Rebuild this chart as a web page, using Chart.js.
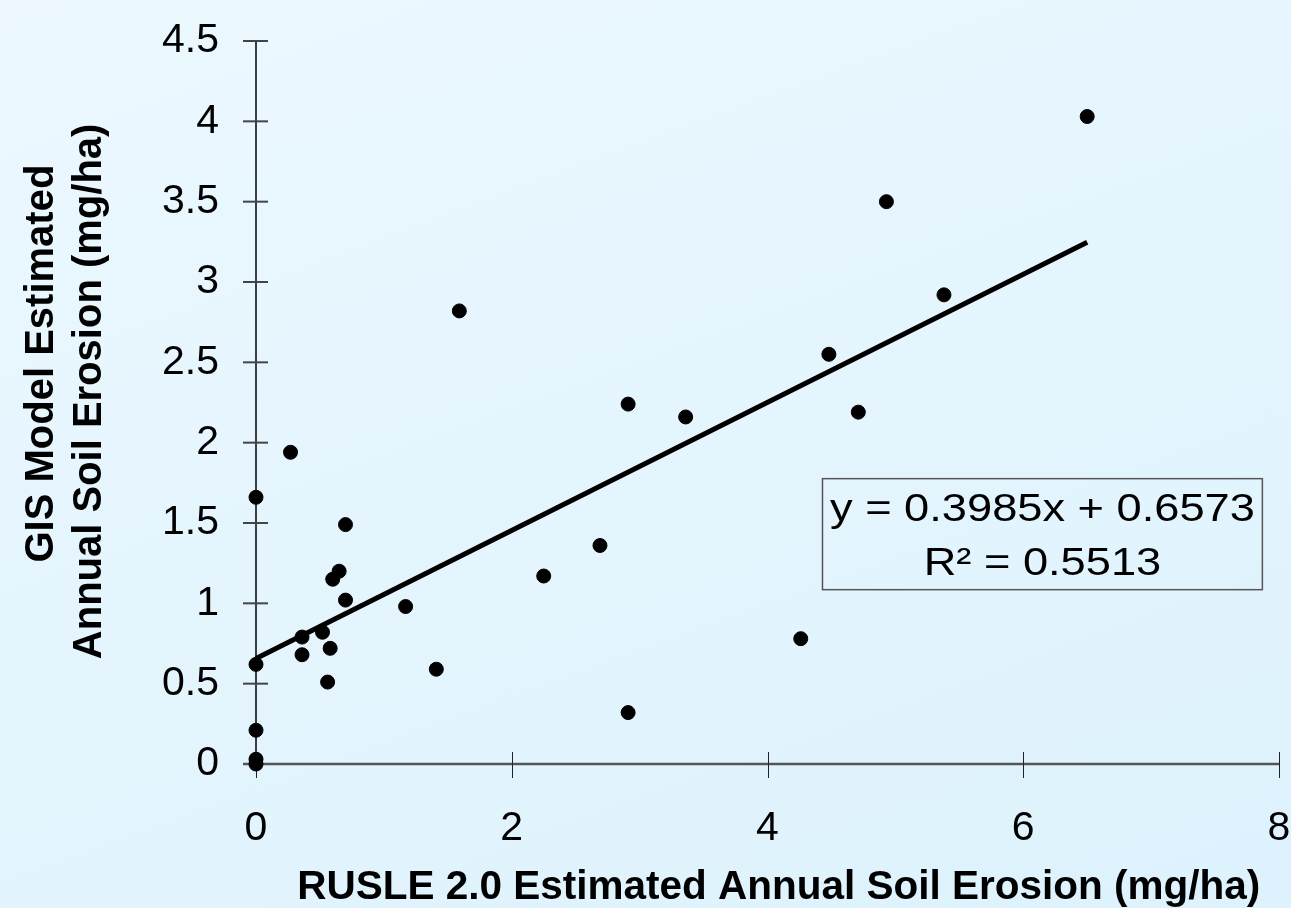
<!DOCTYPE html>
<html>
<head>
<meta charset="utf-8">
<script src="https://cdn.jsdelivr.net/npm/chart.js@4"></script>
<style>
  html, body { margin: 0; padding: 0; }
  body {
    width: 1291px; height: 908px; overflow: hidden;
    background: linear-gradient(160deg, #ecf8fe 0%, #ddf2fd 100%);
  }
  #wrap { width: 1291px; height: 908px; }
</style>
</head>
<body>
<div id="wrap"><canvas id="chart"></canvas></div>
<script>
// values
const rusleX = [0, 0, 0, 0, 0, 0.27, 0.36, 0.36, 0.52, 0.56, 0.58, 0.60, 0.65, 0.70, 0.70,
  1.17, 1.41, 1.59, 2.25, 2.69, 2.91, 2.91, 3.36, 4.26, 4.48, 4.71, 4.93, 5.38, 6.50];
const gisY = [0.00, 0.03, 0.21, 0.62, 1.66, 1.94, 0.79, 0.68, 0.82, 0.51, 0.72, 1.15, 1.20, 1.49, 1.02,
  0.98, 0.59, 2.82, 1.17, 1.36, 2.24, 0.32, 2.16, 0.78, 2.55, 2.19, 3.50, 2.92, 4.03];
const trendX = [0, 6.5];
const trendY = [0.657, 3.248];

const xTicks = ['0', '2', '4', '6', '8'];
const yTicks = ['0', '0.5', '1', '1.5', '2', '2.5', '3', '3.5', '4', '4.5'];
// leading spaces nudge the titles to where they sit in the original
const xTitle = '  RUSLE 2.0 Estimated Annual Soil Erosion (mg/ha)';
const yTitle = ['       GIS Model Estimated', '  Annual Soil Erosion (mg/ha)'];
const equation = ['y = 0.3985x + 0.6573', 'R\u00b2 = 0.5513'];

// where the equation box sits, in data units
const boxX = [4.43, 7.87];
const boxY = [1.085, 1.776];

const FONT = 'Arial, "Liberation Sans", sans-serif';
Chart.defaults.font.family = FONT;
Chart.defaults.color = '#000';

const points = rusleX.map((x, i) => ({ x: x, y: gisY[i] }));
const trend = trendX.map((x, i) => ({ x: x, y: trendY[i] }));

// axes with ticks that cross the axis line, plus the equation box
const excelAxes = {
  id: 'excelAxes',
  beforeDatasetsDraw(chart) {
    const { ctx, chartArea: a, scales: { x, y } } = chart;
    ctx.save();
    ctx.lineCap = 'butt';

    ctx.strokeStyle = '#000';
    ctx.lineWidth = 1.5;
    ctx.beginPath();
    ctx.moveTo(a.left, a.top);
    ctx.lineTo(a.left, a.bottom);
    ctx.stroke();

    ctx.strokeStyle = '#444';
    ctx.lineWidth = 2;
    y.ticks.forEach(t => {
      const py = y.getPixelForValue(t.value);
      ctx.beginPath();
      ctx.moveTo(a.left - 13, py);
      ctx.lineTo(a.left + 12, py);
      ctx.stroke();
    });

    ctx.strokeStyle = '#555';
    ctx.lineWidth = 2.5;
    ctx.beginPath();
    ctx.moveTo(a.left - 13, a.bottom);
    ctx.lineTo(a.right, a.bottom);
    ctx.stroke();

    ctx.strokeStyle = '#222';
    ctx.lineWidth = 1;
    x.ticks.forEach(t => {
      const px = Math.round(x.getPixelForValue(t.value)) + 0.5;
      ctx.beginPath();
      ctx.moveTo(px, a.bottom - 12);
      ctx.lineTo(px, a.bottom + 14);
      ctx.stroke();
    });
    ctx.restore();
  },
  afterDatasetsDraw(chart) {
    const { ctx, scales: { x, y } } = chart;
    const l = x.getPixelForValue(boxX[0]), r = x.getPixelForValue(boxX[1]);
    const t = y.getPixelForValue(boxY[1]), b = y.getPixelForValue(boxY[0]);
    ctx.save();
    ctx.strokeStyle = '#555';
    ctx.lineWidth = 1.5;
    ctx.strokeRect(l, t, r - l, b - t);
    ctx.fillStyle = '#000';
    ctx.font = '38px ' + FONT;
    ctx.textAlign = 'center';
    ctx.textBaseline = 'middle';
    const cx = (l + r) / 2;
    const h = b - t;
    [0.29, 0.77].forEach((f, i) => {
      ctx.save();
      ctx.translate(cx, t + h * f);
      ctx.scale(1.19, 1);
      ctx.fillText(equation[i], 0, 0);
      ctx.restore();
    });
    ctx.restore();
  }
};

new Chart(document.getElementById('chart'), {
  type: 'scatter',
  data: {
    datasets: [
      {
        label: 'GIS vs RUSLE',
        data: points,
        backgroundColor: '#000',
        borderColor: '#000',
        borderWidth: 1,
        pointRadius: 7,
        pointHoverRadius: 7,
        order: 0,
        clip: false
      },
      {
        label: 'Linear trend',
        data: trend,
        showLine: true,
        borderColor: '#000',
        borderWidth: 5,
        pointRadius: 0,
        order: 1,
        clip: false
      }
    ]
  },
  options: {
    responsive: true,
    maintainAspectRatio: false,
    devicePixelRatio: 1,
    animation: false,
    layout: { padding: { top: 41, right: 12, left: 0, bottom: 0 } },
    plugins: {
      legend: { display: false },
      tooltip: { enabled: false }
    },
    scales: {
      x: {
        type: 'linear',
        min: 0,
        max: 8,
        afterFit: s => { s.height = 144; s.paddingLeft = 0; s.paddingRight = 0; },
        grid: { display: false, drawTicks: false },
        border: { display: false },
        ticks: {
          stepSize: 2,
          padding: 40,
          font: { size: 41 },
          callback: (v, i) => xTicks[i]
        },
        title: {
          display: true,
          text: xTitle,
          font: { size: 40.5, weight: 'bold', lineHeight: 1 },
          padding: 0
        }
      },
      y: {
        type: 'linear',
        min: 0,
        max: 4.5,
        afterFit: s => { s.width = 256; s.paddingTop = 0; s.paddingBottom = 0; },
        grid: { display: false, drawTicks: false },
        border: { display: false },
        ticks: {
          stepSize: 0.5,
          padding: 37,
          font: { size: 41 },
          callback: (v, i) => yTicks[i]
        },
        title: {
          display: true,
          text: yTitle,
          font: { size: 40, weight: 'bold', lineHeight: 1.2 },
          padding: { top: 18, bottom: 0 }
        }
      }
    }
  },
  plugins: [excelAxes]
});
</script>
</body>
</html>
